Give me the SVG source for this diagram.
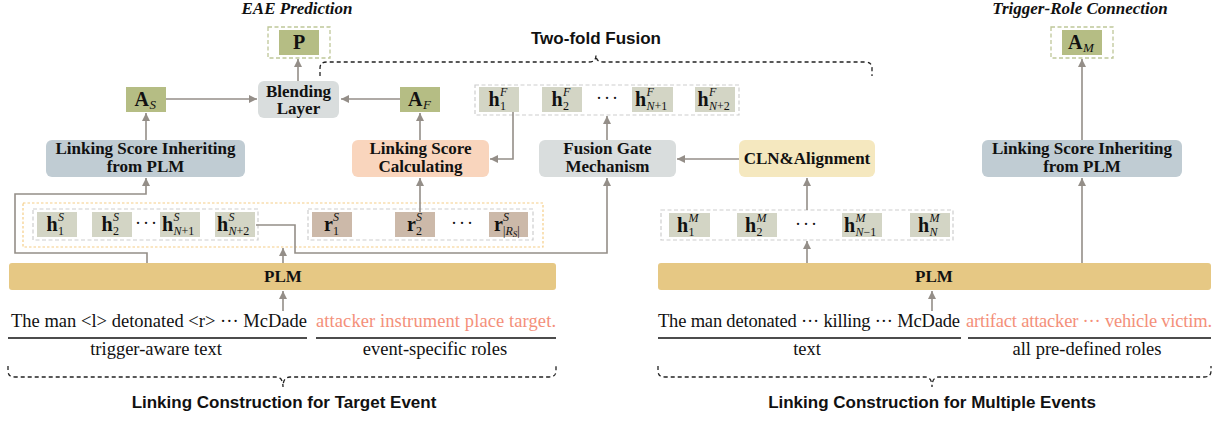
<svg xmlns="http://www.w3.org/2000/svg" width="1226" height="421" viewBox="0 0 1226 421">
<style>
.lbl{font-family:"Liberation Serif",serif;font-weight:bold;font-size:17px;fill:#111;text-anchor:middle}
.ital{font-family:"Liberation Serif",serif;font-weight:bold;font-style:italic;font-size:17px;fill:#111;text-anchor:middle}
.sans{font-family:"Liberation Sans",Arial,sans-serif;font-weight:bold;font-size:17px;fill:#111;text-anchor:middle}
.mb{font-family:"Liberation Serif",serif;font-weight:bold;font-size:20px;fill:#111}
.ss{font-weight:normal;font-style:italic;font-size:12px}
.sa{font-weight:normal;font-style:italic;font-size:13px}
.sn{font-style:normal}
.dots{font-family:"Liberation Serif",serif;font-size:18px;fill:#111;text-anchor:middle;letter-spacing:2px}
.txt{font-family:"Liberation Serif",serif;font-size:18.5px;fill:#111}
.role{font-family:"Liberation Serif",serif;font-size:18.5px;fill:#f4907a}
.cap{font-family:"Liberation Serif",serif;font-size:18.5px;fill:#111;text-anchor:middle}
.olive{fill:#b5bd84}
.hb{fill:#d3d5c5}
.rb{fill:#ccb9a9}
.gdash{fill:none;stroke:#cdcdcd;stroke-width:1.2;stroke-dasharray:4 2.5}
.odash{fill:none;stroke:#bfc799;stroke-width:1.3;stroke-dasharray:4 2.5}
.ydot{fill:none;stroke:#f6cd87;stroke-width:1.2;stroke-dasharray:2.5 2}
.conn{fill:none;stroke:#948e88;stroke-width:1.6}
.brace{fill:none;stroke:#222;stroke-width:1.3;stroke-dasharray:4 3}
.ul{stroke:#111;stroke-width:1.6}
</style>
<defs>
<marker id="ah" viewBox="0 0 10 10" refX="10" refY="5" markerWidth="8" markerHeight="8" markerUnits="userSpaceOnUse" orient="auto">
<path d="M0,0 L10,5 L0,10 z" fill="#948e88"/>
</marker>
</defs>

<!-- headings -->
<text class="ital" x="297" y="14">EAE Prediction</text>
<text class="ital" x="1080" y="14">Trigger-Role Connection</text>
<text class="sans" x="596" y="44">Two-fold Fusion</text>
<path class="brace" d="M320,76 V68 Q320,62 327,62 H589 Q596,62 596,55 Q596,62 603,62 H865 Q872,62 872,68 V76"/>

<!-- P output -->
<g id="P">
<rect class="odash" x="268" y="27" width="62" height="31"/>
<rect class="olive" x="279" y="30" width="40" height="25"/>
<text class="mb" x="299" y="49" text-anchor="middle">P</text>
</g>

<!-- A_M output -->
<g id="AM">
<rect class="odash" x="1051" y="27" width="62" height="31"/>
<rect class="olive" x="1062" y="30" width="40" height="25"/>
<text class="mb" x="1068" y="49">A<tspan class="sa" x="1083" y="52">M</tspan></text>
</g>

<g id="blending">
<rect x="258" y="81" width="81" height="37" rx="6" fill="#d9dddd"/>
<text class="lbl" x="298.5" y="97">Blending</text>
<text class="lbl" x="298.5" y="114">Layer</text>
</g>

<g id="AS">
<rect class="olive" x="126" y="87" width="40" height="25"/>
<text class="mb" x="134.5" y="106">A<tspan class="sa" x="149.5" y="109">S</tspan></text>
</g>

<g id="AF">
<rect class="olive" x="400" y="87" width="40" height="25"/>
<text class="mb" x="408" y="106">A<tspan class="sa" x="423" y="109">F</tspan></text>
</g>

<g id="hF">
<rect class="gdash" x="475" y="85" width="264" height="30"/>
<rect class="hb" x="479" y="87" width="40" height="25"/>
<rect class="hb" x="542" y="87" width="40" height="25"/>
<rect class="hb" x="632" y="87" width="41" height="25"/>
<rect class="hb" x="695" y="87" width="40" height="25"/>
<text class="mb" x="488.5" y="106">h<tspan class="ss" x="500" y="96">F</tspan><tspan class="ss sn" x="500" y="110">1</tspan></text>
<text class="mb" x="551.5" y="106">h<tspan class="ss" x="563" y="96">F</tspan><tspan class="ss sn" x="563" y="110">2</tspan></text>
<text class="dots" x="608" y="104">···</text>
<text class="mb" x="635" y="106">h<tspan class="ss" x="646.5" y="96">F</tspan><tspan class="ss" x="646.5" y="110">N<tspan class="sn">+1</tspan></tspan></text>
<text class="mb" x="697.5" y="106">h<tspan class="ss" x="709" y="96">F</tspan><tspan class="ss" x="709" y="110">N<tspan class="sn">+2</tspan></tspan></text>
</g>

<g id="lsi-left">
<rect x="46" y="140" width="199" height="37" rx="6" fill="#c0ccd3"/>
<text class="lbl" x="145.5" y="154">Linking Score Inheriting</text>
<text class="lbl" x="145.5" y="172">from PLM</text>
</g>

<g id="lsc">
<rect x="352" y="140" width="137" height="37" rx="6" fill="#f9d5bd"/>
<text class="lbl" x="420.5" y="154">Linking Score</text>
<text class="lbl" x="420.5" y="172">Calculating</text>
</g>

<g id="fusion">
<rect x="539" y="140" width="137" height="37" rx="6" fill="#d9dddd"/>
<text class="lbl" x="607.5" y="154">Fusion Gate</text>
<text class="lbl" x="607.5" y="172">Mechanism</text>
</g>

<g id="cln">
<rect x="739" y="140" width="136" height="37" rx="6" fill="#f5e8bf"/>
<text class="lbl" x="807" y="164">CLN&amp;Alignment</text>
</g>

<g id="lsi-right">
<rect x="982" y="140" width="200" height="37" rx="6" fill="#c0ccd3"/>
<text class="lbl" x="1082" y="154">Linking Score Inheriting</text>
<text class="lbl" x="1082" y="172">from PLM</text>
</g>

<g id="hS-rS">
<rect class="ydot" x="23" y="203" width="520" height="44"/>
<rect class="gdash" x="33" y="209" width="225" height="31"/>
<rect class="gdash" x="308" y="209" width="225" height="31"/>
<rect class="hb" x="37" y="212" width="40" height="25"/>
<rect class="hb" x="92" y="212" width="40" height="25"/>
<rect class="hb" x="160" y="212" width="40" height="25"/>
<rect class="hb" x="215" y="212" width="40" height="25"/>
<text class="mb" x="46.5" y="231">h<tspan class="ss" x="58" y="221">S</tspan><tspan class="ss sn" x="58" y="235">1</tspan></text>
<text class="mb" x="101.5" y="231">h<tspan class="ss" x="113" y="221">S</tspan><tspan class="ss sn" x="113" y="235">2</tspan></text>
<text class="dots" x="147" y="229">···</text>
<text class="mb" x="162" y="231">h<tspan class="ss" x="173.5" y="221">S</tspan><tspan class="ss" x="173.5" y="235">N<tspan class="sn">+1</tspan></tspan></text>
<text class="mb" x="217" y="231">h<tspan class="ss" x="228.5" y="221">S</tspan><tspan class="ss" x="228.5" y="235">N<tspan class="sn">+2</tspan></tspan></text>
<rect class="rb" x="312" y="212" width="40" height="25"/>
<rect class="rb" x="395" y="212" width="40" height="25"/>
<rect class="rb" x="489" y="212" width="39" height="25"/>
<text class="mb" x="324" y="231">r<tspan class="ss" x="333" y="221">S</tspan><tspan class="ss sn" x="333" y="235">1</tspan></text>
<text class="mb" x="407" y="231">r<tspan class="ss" x="416" y="221">S</tspan><tspan class="ss sn" x="416" y="235">2</tspan></text>
<text class="dots" x="463" y="229">···</text>
<text class="mb" x="494" y="231">r<tspan class="ss" x="503" y="221">S</tspan><tspan class="ss" x="503" y="235"><tspan class="sn">|</tspan>R<tspan font-size="9" dy="2">S</tspan><tspan class="sn" dy="-2">|</tspan></tspan></text>
</g>

<g id="hM">
<rect class="gdash" x="661" y="210" width="292" height="30"/>
<rect class="hb" x="669" y="213" width="41" height="24"/>
<rect class="hb" x="737" y="213" width="40" height="24"/>
<rect class="hb" x="842" y="213" width="40" height="24"/>
<rect class="hb" x="910" y="213" width="40" height="24"/>
<text class="mb" x="677" y="231.5">h<tspan class="ss" x="688.5" y="221.5">M</tspan><tspan class="ss sn" x="688.5" y="235.5">1</tspan></text>
<text class="mb" x="745" y="231.5">h<tspan class="ss" x="756.5" y="221.5">M</tspan><tspan class="ss sn" x="756.5" y="235.5">2</tspan></text>
<text class="dots" x="807" y="230">···</text>
<text class="mb" x="844" y="231.5">h<tspan class="ss" x="855.5" y="221.5">M</tspan><tspan class="ss" x="855.5" y="235.5">N<tspan class="sn">−1</tspan></tspan></text>
<text class="mb" x="918" y="231.5">h<tspan class="ss" x="929.5" y="221.5">M</tspan><tspan class="ss" x="929.5" y="235.5">N</tspan></text>
</g>

<g id="plm-left">
<rect x="9" y="263" width="547" height="27" rx="3" fill="#e6c884"/>
<text class="lbl" x="283" y="282">PLM</text>
</g>
<g id="plm-right">
<rect x="658" y="263" width="553" height="27" rx="3" fill="#e6c884"/>
<text class="lbl" x="934" y="282">PLM</text>
</g>

<g id="input-left">
<text class="txt" x="11" y="327" textLength="296">The man &lt;l&gt; detonated &lt;r&gt; ···  McDade</text>
<text class="role" x="316" y="327" textLength="240">attacker instrument place target.</text>
<line class="ul" x1="8" y1="338" x2="307" y2="338"/>
<line class="ul" x1="316" y1="338" x2="556" y2="338"/>
<text class="cap" x="156" y="355">trigger-aware text</text>
<text class="cap" x="435" y="355">event-specific roles</text>
<path class="brace" d="M8,366 V371 Q8,377 15,377 H276 Q283,377 283,387 Q283,377 290,377 H549 Q556,377 556,371 V366"/>
<text class="sans" x="284" y="408">Linking Construction for Target Event</text>
</g>

<g id="input-right">
<text class="txt" x="658" y="327" textLength="302">The man detonated ··· killing ··· McDade</text>
<text class="role" x="966" y="327" textLength="246">artifact attacker ··· vehicle victim.</text>
<line class="ul" x1="658" y1="338" x2="961" y2="338"/>
<line class="ul" x1="968" y1="338" x2="1211" y2="338"/>
<text class="cap" x="807" y="355">text</text>
<text class="cap" x="1087" y="355">all pre-defined roles</text>
<path class="brace" d="M658,366 V371 Q658,377 665,377 H925 Q932,377 932,387 Q932,377 939,377 H1204 Q1211,377 1211,371 V366"/>
<text class="sans" x="932" y="408">Linking Construction for Multiple Events</text>
</g>

<g id="connectors">
<path class="conn" marker-end="url(#ah)" d="M166,99 H257"/>
<path class="conn" marker-end="url(#ah)" d="M400,99 H341"/>
<path class="conn" marker-end="url(#ah)" d="M298,81 V59"/>
<path class="conn" marker-end="url(#ah)" d="M146,140 V113"/>
<path class="conn" marker-end="url(#ah)" d="M147,263 V253 H15 V194 H146 V178"/>
<path class="conn" marker-end="url(#ah)" d="M420,140 V113"/>
<path class="conn" marker-end="url(#ah)" d="M420,212 V178"/>
<path class="conn" marker-end="url(#ah)" d="M513,112 V159 H490"/>
<path class="conn" marker-end="url(#ah)" d="M607,140 V116"/>
<path class="conn" marker-end="url(#ah)" d="M256,225 H295 V253 H607 V178"/>
<path class="conn" marker-end="url(#ah)" d="M283,263 V248"/>
<path class="conn" marker-end="url(#ah)" d="M283,311 V291"/>
<path class="conn" marker-end="url(#ah)" d="M739,159 H677"/>
<path class="conn" marker-end="url(#ah)" d="M807,210 V178"/>
<path class="conn" marker-end="url(#ah)" d="M807,263 V241"/>
<path class="conn" marker-end="url(#ah)" d="M932,311 V291"/>
<path class="conn" marker-end="url(#ah)" d="M1082,263 V178"/>
<path class="conn" marker-end="url(#ah)" d="M1082,140 V59"/>
</g>
</svg>
